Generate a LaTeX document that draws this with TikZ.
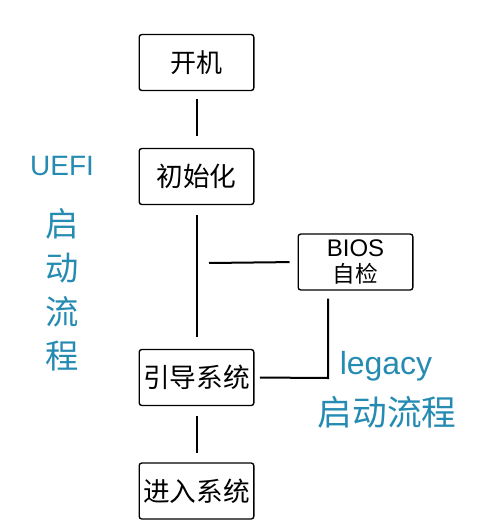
\documentclass[tikz,border=0pt]{standalone}
\usepackage{fontspec}
\setmainfont{Liberation Sans}
\newfontfamily\cjk{Noto Sans CJK SC}
\definecolor{tealblue}{RGB}{38,139,178}
\tikzset{every picture/.style={line width=0.75pt}}
\tikzset{
  stepbox/.style={draw, line width=1pt, rounded corners=2pt, minimum width=86pt, minimum height=42pt, inner sep=0.75pt, align=center},
  link/.style={line width=1.5pt},
}

\begin{document}
\begin{tikzpicture}[x=0.75pt,y=0.75pt,yscale=-1,xscale=1]
\useasboundingbox (0,0) rectangle (480,532);

%Shape: Rectangle [id:boot]
\node [stepbox, font=\cjk\fontsize{19.5}{21}\selectfont] (boot) at (196.5,62.5) {开机};
%Shape: Rectangle [id:init]
\node [stepbox, font=\cjk\fontsize{20}{22}\selectfont] (init) at (196.5,176.5) {初始化};
%Shape: Rectangle [id:bios]
\node [stepbox, font=\fontsize{18}{19}\selectfont] (bios) at (355.5,262) {BIOS\\{\cjk\fontsize{17}{19}\selectfont 自检}};
%Shape: Rectangle [id:loader]
\node [stepbox, font=\cjk\fontsize{20}{22}\selectfont] (loader) at (196.5,377.5) {引导系统};
%Shape: Rectangle [id:enter]
\node [stepbox, font=\cjk\fontsize{20}{22}\selectfont] (enter) at (196.5,491) {进入系统};

\coordinate (tap) at (209,263);
\coordinate (bend) at (328,378);

%Straight Lines [id:l1]
\draw [link, shorten <=6pt, shorten >=9pt] (boot) -- (init);
%Straight Lines [id:l2]
\draw [link, shorten <=7.5pt, shorten >=9pt] (init) -- (loader);
%Straight Lines [id:l3]
\draw [link, shorten <=6pt] (bios.west) -- (tap);
%Straight Lines [id:l4]
\draw [link, shorten <=6pt, shorten >=4pt] (bios.south -| bend) -- (bend) -- (loader.east);
%Straight Lines [id:l5]
\draw [link, shorten <=7pt, shorten >=7pt] (loader) -- (enter);

% Text Node
\node [text=tealblue, font=\fontsize{21}{22}\selectfont, inner sep=0.75pt] (uefi) at (62,166) {UEFI};
% Text Node
\node [text=tealblue, font=\cjk\fontsize{25}{33}\selectfont, inner sep=0.75pt, align=center] (uefiflow) at (62,290) {启\\动\\流\\程};
% Text Node
\node [text=tealblue, font=\fontsize{24}{26}\selectfont, inner sep=0.75pt] (legacy) at (386,366) {legacy};
% Text Node
\node [text=tealblue, font=\cjk\fontsize{26}{28}\selectfont, inner sep=0.75pt] (legacyflow) at (387,412) {启动流程};

\end{tikzpicture}
\end{document}
